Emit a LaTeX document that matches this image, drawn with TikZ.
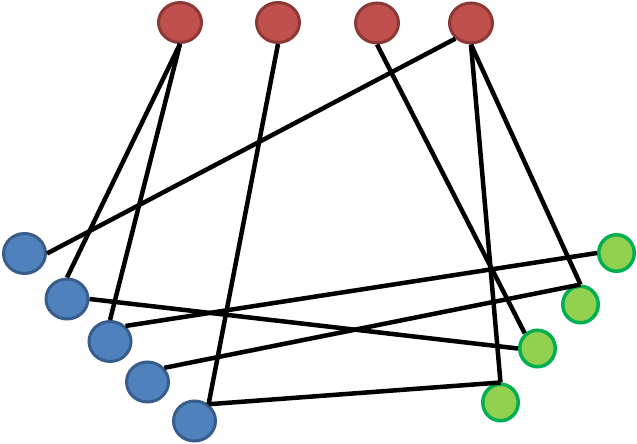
\documentclass[tikz,border=0pt]{standalone}
\usetikzlibrary{shapes.geometric}
\definecolor{redfill}{HTML}{C0504D}
\definecolor{redline}{HTML}{8C3836}
\definecolor{bluefill}{HTML}{4F81BD}
\definecolor{blueline}{HTML}{385D8A}
\definecolor{greenfill}{HTML}{92D050}
\definecolor{greenline}{HTML}{00B050}
\begin{document}
\begin{tikzpicture}[x=1pt,y=-1pt,
  rednode/.style={ellipse,draw=redline,fill=redfill,line width=3pt,inner sep=0pt,minimum width=43pt,minimum height=40pt},
  bluenode/.style={ellipse,draw=blueline,fill=bluefill,line width=3pt,inner sep=0pt,minimum width=42pt,minimum height=40pt},
  greennode/.style={ellipse,draw=greenline,fill=greenfill,line width=3.5pt,inner sep=0pt,minimum width=35.5pt,minimum height=36.5pt},
  link/.style={line width=4.5pt,black}]
\useasboundingbox (0,0) rectangle (637,444);
\node[rednode] (r1) at (180,22.5) {};
\node[rednode] (r2) at (278,22.5) {};
\node[rednode] (r3) at (377,23) {};
\node[rednode] (r4) at (471,23) {};
\node[bluenode] (b1) at (24.5,253.5) {};
\node[bluenode] (b2) at (67,299) {};
\node[bluenode] (b3) at (110,341.5) {};
\node[bluenode] (b4) at (147.5,382) {};
\node[bluenode] (b5) at (194.5,421) {};
\node[greennode] (g1) at (616.5,253) {};
\node[greennode] (g2) at (580.5,304.5) {};
\node[greennode] (g3) at (537.5,348.5) {};
\node[greennode] (g4) at (500.5,402.5) {};
\draw[link] (r1.south) -- (b2.north);
\draw[link] (r1.south) -- (b3.north);
\draw[link] (r2.south) -- (b5.50);
\draw[link] (b5.50) -- (g4.north);
\draw[link] (r3.south) -- (g3.130);
\draw[link] (r4.225) -- (b1.east);
\draw[link] (r4.south) -- (g2.north);
\draw[link] (r4.south) -- (g4.north);
\draw[link] (b2.east) -- (g3.west);
\draw[link] (b3.45) -- (g1.west);
\draw[link] (b4.40) -- (g2.north);
\end{tikzpicture}
\end{document}
